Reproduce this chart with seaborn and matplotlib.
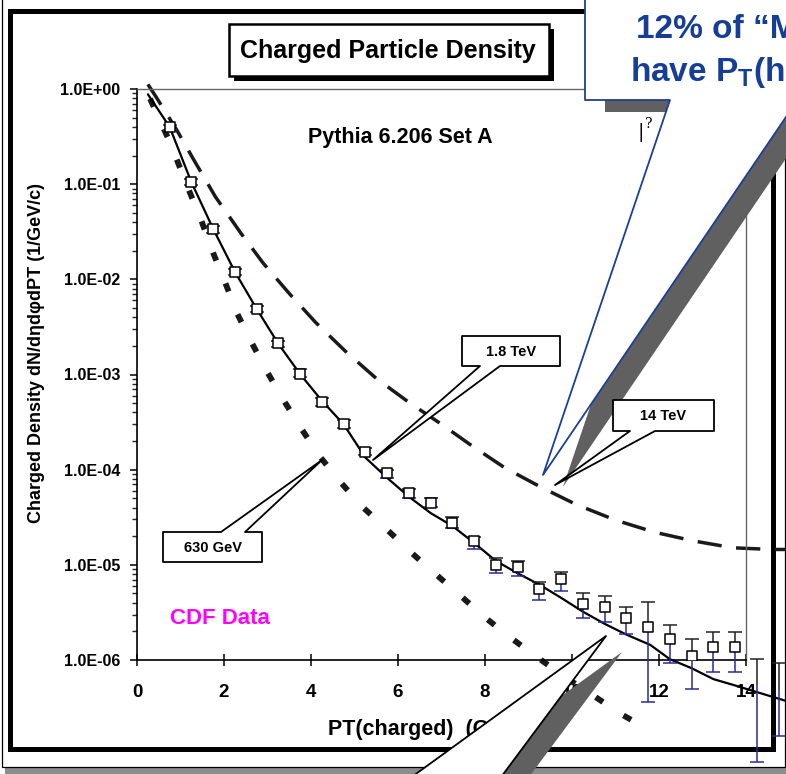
import numpy as np
import matplotlib.pyplot as plt
import matplotlib.ticker as mticker
from matplotlib.patches import Rectangle, Polygon
import seaborn as sns

# CDF data: pT bin centres, density and the upper / lower ends of the error bars
pt_data = [0.75, 1.25, 1.75, 2.25, 2.75, 3.25, 3.75, 4.25, 4.75, 5.25,
           5.75, 6.25, 6.75, 7.25, 7.75, 8.25, 8.75, 9.25, 9.75, 10.25,
           10.75, 11.25, 11.75, 12.25, 12.75, 13.25, 13.75, 14.25, 14.75]
dens_data = [0.396, 0.105, 0.0336, 0.0120, 0.00484, 0.00213, 0.00101, 5.18e-4, 3.02e-4, 1.53e-4,
             9.16e-5, 5.65e-5, 4.43e-5, 2.77e-5, 1.78e-5, 9.96e-6, 9.42e-6, 5.53e-6, 7.05e-6, 3.85e-6,
             3.58e-6, 2.79e-6, 2.21e-6, 1.66e-6, 1.10e-6, 1.38e-6, 1.38e-6, 5.4e-7, 4.8e-7]
dens_hi = [0.42, 0.112, 0.036, 0.0129, 0.0052, 0.00227, 0.00113, 5.7e-4, 3.35e-4, 1.67e-4,
           1.0e-4, 6.2e-5, 5.0e-5, 3.2e-5, 1.98e-5, 1.17e-5, 1.11e-5, 6.65e-6, 8.47e-6, 5.02e-6,
           4.71e-6, 3.63e-6, 4.10e-6, 2.33e-6, 1.66e-6, 1.99e-6, 1.99e-6, 1.03e-6, 9.3e-7]
dens_lo = [0.37, 0.097, 0.031, 0.0112, 0.0045, 0.00195, 9.3e-4, 4.7e-4, 2.74e-4, 1.41e-4,
           8.1e-5, 5.0e-5, 4.03e-5, 2.42e-5, 1.47e-5, 8.15e-6, 7.69e-6, 4.27e-6, 5.35e-6, 2.79e-6,
           2.49e-6, 1.86e-6, 3.6e-7, 9.4e-7, 4.95e-7, 7.43e-7, 7.43e-7, 8.5e-8, 1.6e-7]

# Pythia 6.206 Set A predictions
pt_18tev = [0.25, 0.75, 1.25, 1.75, 2.25, 2.75, 3.25, 3.75, 4.25, 4.75, 5.25, 5.75, 6.25, 6.75,
            7.25, 7.75, 8.25, 8.75, 9.25, 9.75, 10.25, 10.75, 11.25, 11.8, 12.25, 12.75, 13.25,
            13.75, 14.25, 14.9]
dens_18tev = [0.88, 0.40, 0.105, 0.034, 0.012, 0.0049, 0.0021, 1.01e-3, 5.3e-4, 3.0e-4, 1.34e-4,
              8.2e-5, 5.2e-5, 3.5e-5, 2.56e-5, 1.7e-5, 1.1e-5, 8.15e-6, 6.2e-6, 4.5e-6, 3.22e-6,
              2.4e-6, 1.85e-6, 1.44e-6, 1.02e-6, 8.2e-7, 6.3e-7, 5.4e-7, 4.6e-7, 3.74e-7]

pt_14tev = [0.25, 0.45, 0.9, 1.3, 1.8, 2.4, 2.9, 3.5, 4.1, 4.8, 5.5, 6.25, 7.0, 7.7, 8.45,
            9.3, 10.1, 11.0, 11.9, 12.8, 13.7, 14.6, 15.0]
dens_14tev = [1.12, 0.81, 0.38, 0.182, 0.074, 0.030, 0.0148, 0.0071, 0.00355, 0.00174, 9.1e-4,
              5.1e-4, 3.0e-4, 1.78e-4, 1.05e-4, 6.5e-5, 4.3e-5, 2.95e-5, 2.2e-5, 1.78e-5,
              1.51e-5, 1.45e-5, 1.45e-5]

pt_630gev = [0.3, 0.75, 1.2, 1.5, 1.75, 2.05, 2.3, 2.65, 3.0, 3.4, 3.8, 4.2, 4.7, 5.2, 5.75,
             6.3, 6.85, 7.4, 8.0, 8.6, 9.2, 9.8, 10.5, 11.1, 11.75]
dens_630gev = [0.79, 0.28, 0.085, 0.039, 0.019, 0.0087, 0.0044, 0.0021, 0.00105, 5.1e-4, 2.6e-4,
               1.38e-4, 7.2e-5, 4.0e-5, 2.34e-5, 1.35e-5, 8.1e-6, 4.9e-6, 2.8e-6, 1.7e-6,
               1.07e-6, 6.8e-7, 4.2e-7, 2.75e-7, 1.86e-7]

x_ticks = [0, 2, 4, 6, 8, 10, 12, 14]

sns.set_theme(style='white')
plt.rcParams['font.family'] = ['Liberation Sans', 'DejaVu Sans']
plt.rcParams['font.weight'] = 'bold'
plt.rcParams['mathtext.fontset'] = 'custom'
plt.rcParams['mathtext.rm'] = 'Liberation Sans:bold'
plt.rcParams['mathtext.bf'] = 'Liberation Sans:bold'
plt.rcParams['mathtext.default'] = 'bf'

W, H = 786, 774
fig = plt.figure(figsize=(W / 100, H / 100), dpi=100)
fig.patch.set_facecolor('white')


def pixel_axes(z):
    # full-figure axes in pixel units (y down) for the slide decorations
    a = fig.add_axes([0, 0, 1, 1], zorder=z)
    a.set_xlim(0, W)
    a.set_ylim(H, 0)
    a.axis('off')
    a.patch.set_alpha(0)
    return a


# --- slide frame (behind the chart) ---
bg = pixel_axes(0)
bg.add_patch(Rectangle((5, 767.5), 800, 12, color='#8c8c8c', lw=0))
bg.add_patch(Rectangle((2, -20), 783, 786.5, fc='white', ec='black', lw=0.9))
bg.add_patch(Rectangle((10, 11), 762.5, 738, fc='white', ec='black', lw=3.6))

# --- chart ---
ax = fig.add_axes([137 / W, 1 - 660 / H, 609 / W, 571 / H], zorder=1)
ax.patch.set_alpha(0)
ax.set_yscale('log')

sns.lineplot(x=pt_14tev, y=dens_14tev, ax=ax, color='#1a1a1a', lw=2.5,
             linestyle=(0, (7, 4.2)), errorbar=None, clip_on=False)
sns.lineplot(x=pt_630gev, y=dens_630gev, ax=ax, color='#1a1a1a', lw=4.2,
             linestyle=(0, (1.5, 4.2)), errorbar=None, clip_on=False)
sns.lineplot(x=pt_18tev, y=dens_18tev, ax=ax, color='black', lw=1.6,
             errorbar=None, clip_on=False)

# error bars: upper half dark, lower half blue
ax.vlines(pt_data, dens_data, dens_hi, colors='#222222', lw=1.1, clip_on=False, zorder=3)
ax.vlines(pt_data, dens_lo, dens_data, colors='#2a2a9c', lw=1.1, clip_on=False, zorder=3)
ax.plot(pt_data, dens_hi, ls='none', marker='_', ms=10, mew=1.1, color='#222222',
        clip_on=False, zorder=3)
ax.plot(pt_data, dens_lo, ls='none', marker='_', ms=10, mew=1.1, color='#2a2a9c',
        clip_on=False, zorder=3)
sns.scatterplot(x=pt_data, y=dens_data, ax=ax, marker='s', s=48, color='white',
                edgecolor='black', linewidth=1.1, zorder=5)

ax.set_xlim(0, 14)
ax.set_ylim(1e-6, 1)
ax.set_xticks(x_ticks)
ax.yaxis.set_major_locator(mticker.LogLocator(base=10, numticks=10))
ax.yaxis.set_minor_locator(mticker.LogLocator(base=10, subs=np.arange(2, 10), numticks=20))
ax.yaxis.set_major_formatter(mticker.FuncFormatter(lambda v, p: f'{v:.1E}'))
ax.yaxis.set_minor_formatter(mticker.NullFormatter())
ax.tick_params(axis='y', which='major', direction='out', length=5, width=1.1,
               labelsize=11.5, pad=7, left=True, colors='black')
ax.tick_params(axis='y', which='minor', direction='out', length=3.5, width=1, left=True)
ax.tick_params(axis='x', which='major', direction='inout', length=8, width=1.1,
               labelsize=13.5, pad=13, bottom=True, colors='black')
for side in ['left', 'bottom']:
    ax.spines[side].set_color('black')
    ax.spines[side].set_linewidth(1.2)
for side in ['top', 'right']:
    ax.spines[side].set_color('#666666')
    ax.spines[side].set_linewidth(1.0)

ax.set_ylabel('Charged Density dN/dηdφdPT (1/GeV/c)', fontsize=13, fontweight='bold',
              color='black', va='center')
ax.yaxis.set_label_coords((37 - 137) / 609, (660 - 353) / 571)
ax.set_xlabel('PT(charged)  (GeV/c)', fontsize=15.5, fontweight='bold', color='black',
              ha='left', va='center')
ax.xaxis.set_label_coords((328 - 137) / 609, (660 - 730) / 571)

# --- annotations on top ---
ov = pixel_axes(2)

# title box with hard shadow
ov.add_patch(Rectangle((234, 29), 320, 52, color='black', lw=0))
ov.add_patch(Rectangle((229, 24), 320, 52, fc='white', ec='black', lw=1.8))
ov.text(388, 51, 'Charged Particle Density', ha='center', va='center',
        fontsize=18, fontweight='bold', color='black')

ov.text(400, 138, 'Pythia 6.206 Set A', ha='center', va='center', fontsize=15.5,
        fontweight='bold', color='black')
ov.text(220, 619, 'CDF Data', ha='center', va='center', fontsize=16,
        fontweight='bold', color='#ff00ff')
ov.text(641, 132, '|', ha='center', va='center', fontsize=14, fontweight='normal',
        family='DejaVu Serif', color='black')
ov.text(649, 124, '?', ha='center', va='center', fontsize=10, fontweight='normal',
        family='DejaVu Serif', color='black')

# big blue speech callout at the top right
callout = [(585, -20), (585, 100), (670, 100), (543, 475), (797.5, 100), (840, 100), (840, -20)]
ov.add_patch(Polygon([(x + 20, y + 12) for x, y in callout], closed=True, color='#606060', lw=0))
ov.add_patch(Polygon(callout, closed=True, fc='white', ec='#1c3f94', lw=1.3, joinstyle='round'))
ov.text(636, 38, '12% of “Min-Bias” events', ha='left', va='baseline', fontsize=24,
        fontweight='bold', color='#173e96', zorder=5)
ov.text(630, 81, 'have P$_T$(hard) > 5 GeV/c', ha='left', va='baseline', fontsize=24,
        fontweight='bold', color='#173e96', zorder=5)

# white wedge coming in from the bottom
wedge = [(606, 636), (380, 800), (484, 800)]
ov.add_patch(Polygon([(x + 16, y + 16) for x, y in wedge], closed=True, color='#606060', lw=0))
ov.add_patch(Polygon(wedge, closed=True, fc='white', ec='black', lw=1.3, joinstyle='round'))


def label_callout(x0, y0, x1, y1, t1, t2, tip, text, tail='bottom'):
    if tail == 'bottom':
        pts = [(x0, y0), (x1, y0), (x1, y1), (t2, y1), tip, (t1, y1), (x0, y1)]
    else:
        pts = [(x0, y0), (t1, y0), tip, (t2, y0), (x1, y0), (x1, y1), (x0, y1)]
    ov.add_patch(Polygon(pts, closed=True, fc='white', ec='black', lw=1.3, joinstyle='round'))
    ov.text((x0 + x1) / 2, (y0 + y1) / 2 + 1, text, ha='center', va='center', fontsize=10.5,
            fontweight='bold', color='black')


label_callout(462, 336, 560, 366, 480, 500, (373, 460), '1.8 TeV')
label_callout(613, 400, 714, 431, 630, 655, (555, 485), '14 TeV')
label_callout(163, 532, 262, 562, 221, 245, (322, 460), '630 GeV', tail='top')

fig.savefig('out.png', dpi=100)
